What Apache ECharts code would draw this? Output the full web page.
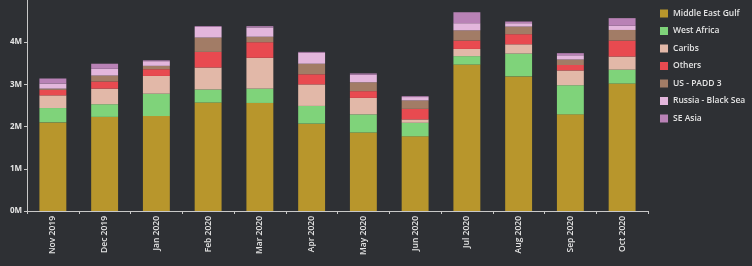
<!DOCTYPE html>
<html><head><meta charset="utf-8">
<script src="https://cdn.jsdelivr.net/npm/echarts@6/dist/echarts.min.js"></script>
<style>html,body{margin:0;padding:0;background:#2e3034;}#c{width:752px;height:266px;}</style>
</head><body><div id="c"></div>
<script>
const categories = ['Nov 2019','Dec 2019','Jan 2020','Feb 2020','Mar 2020','Apr 2020','May 2020','Jun 2020','Jul 2020','Aug 2020','Sep 2020','Oct 2020'];
const seriesNames = ['Middle East Gulf','West Africa','Caribs','Others','US - PADD 3','Russia - Black Sea','SE Asia'];
const middleEastGulf = [2.10,2.23,2.25,2.57,2.56,2.07,1.86,1.77,3.47,3.19,2.29,3.02];
const westAfrica     = [0.34,0.30,0.53,0.31,0.34,0.42,0.43,0.32,0.20,0.54,0.69,0.33];
const caribs         = [0.30,0.37,0.42,0.52,0.73,0.51,0.39,0.08,0.17,0.22,0.35,0.31];
const others         = [0.13,0.17,0.16,0.37,0.37,0.24,0.16,0.25,0.20,0.24,0.13,0.38];
const usPadd3        = [0.03,0.14,0.08,0.34,0.13,0.25,0.21,0.20,0.24,0.18,0.13,0.25];
const russiaBlackSea = [0.12,0.16,0.11,0.25,0.22,0.26,0.18,0.08,0.17,0.08,0.10,0.10];
const seAsia         = [0.12,0.12,0.02,0.02,0.03,0.02,0.03,0.02,0.26,0.04,0.05,0.18];
const yTicks = [0,1,2,3,4,5]; // millions

const values = [middleEastGulf,westAfrica,caribs,others,usPadd3,russiaBlackSea,seAsia];
const colors = ['#b8962c','#7fd37a','#e2b8a8','#e84a50','#a27c66','#e3b6dc','#b982b6'];
const chart = echarts.init(document.getElementById('c'));
const txt = '#e4e4e4';
chart.setOption({
  backgroundColor:'#2e3034',
  animation:false,
  textStyle:{fontFamily:'Open Sans'},
  grid:{left:27,right:104,top:0,bottom:55},
  legend:{
    orient:'vertical', left:655, top:4, itemWidth:8, itemHeight:8, itemGap:8.5,
    icon:'rect',
    textStyle:{color:txt,fontSize:8.5,fontWeight:600,fontFamily:'Open Sans'},
    data:seriesNames
  },
  xAxis:{
    type:'category', data:categories,
    axisLine:{lineStyle:{color:'#c8c8c8',width:1}},
    axisTick:{show:true,length:3,lineStyle:{color:'#c8c8c8'}},
    axisLabel:{rotate:90,color:txt,fontSize:8.5,fontWeight:600,margin:5}
  },
  yAxis:{
    type:'value', min:yTicks[0]*1e6, max:yTicks[yTicks.length-1]*1e6, interval:1e6,
    splitLine:{show:false},
    axisLine:{show:true,lineStyle:{color:'#c8c8c8'}},
    axisTick:{show:true,length:3,lineStyle:{color:'#c8c8c8'}},
    axisLabel:{color:txt,fontSize:8,fontWeight:700,margin:5,showMaxLabel:false,
      formatter:v=>(v/1e6)+'M'}
  },
  series:seriesNames.map((n,i)=>({
    name:n, type:'bar', stack:'t', barWidth:'52%',
    itemStyle:{color:colors[i]},
    data:values[i].map(v=>v*1e6)
  }))
});
</script></body></html>
